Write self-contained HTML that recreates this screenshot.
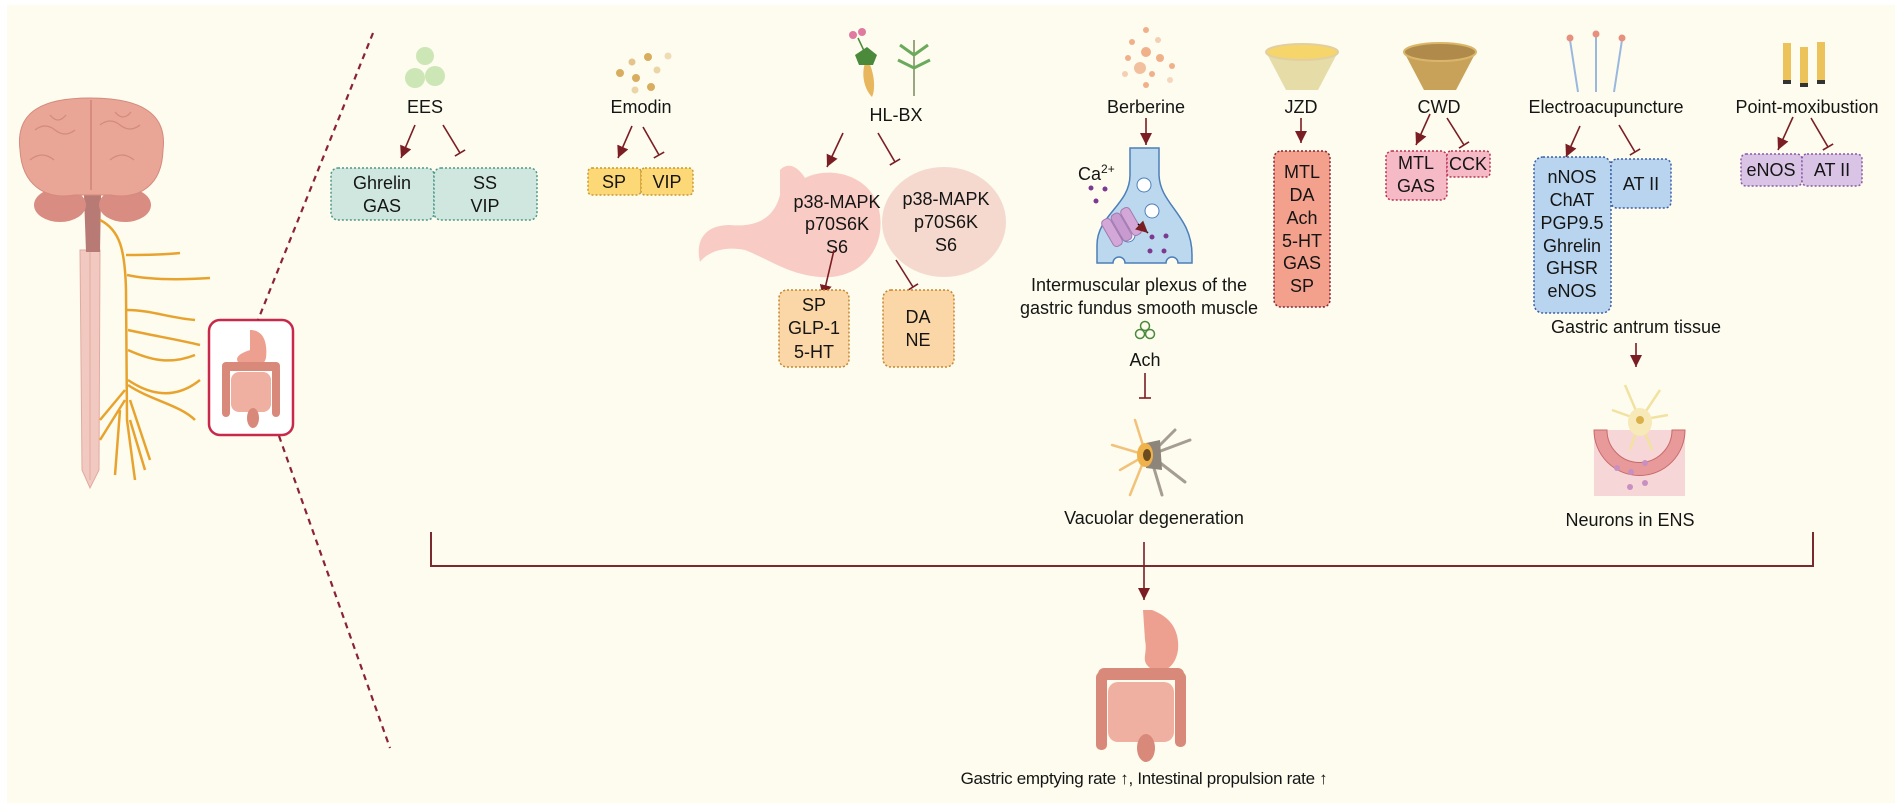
<!DOCTYPE html>
<html><head><meta charset="utf-8"><style>
html,body{margin:0;padding:0;background:#fff;}
svg{display:block;}
text{font-family:"Liberation Sans",sans-serif;fill:#151515;}
</style></head><body>
<svg width="1902" height="810" viewBox="0 0 1902 810" xmlns="http://www.w3.org/2000/svg">
<defs>
<marker id="ar" markerUnits="userSpaceOnUse" markerWidth="12" markerHeight="12" refX="10" refY="5" orient="auto" viewBox="0 0 10 10"><path d="M0,0 L10,5 L0,10 z" fill="#7a1e24"/></marker>
<marker id="inh" markerUnits="userSpaceOnUse" markerWidth="4" markerHeight="12" refX="1" refY="6" orient="auto" viewBox="0 0 4 12"><line x1="1" y1="0" x2="1" y2="12" stroke="#7a1e24" stroke-width="1.6"/></marker>
</defs>
<rect x="0" y="0" width="1902" height="810" fill="#fff"/>
<rect x="7" y="5" width="1888" height="798" fill="#fdfcef"/>

<!-- brain & spinal cord -->
<g>
<path d="M80,250 L100,250 L99,470 L90,488 L82,470 Z" fill="#f1c9c0" stroke="#e2aaa0"/>
<line x1="90" y1="252" x2="90" y2="480" stroke="#e2aaa0"/>
<path d="M84,195 L101,195 L100,252 L86,252 Z" fill="#b87a74"/>
<ellipse cx="60" cy="205" rx="26" ry="17" fill="#d98d82"/>
<ellipse cx="125" cy="205" rx="26" ry="17" fill="#d98d82"/>
<path d="M20,150 C15,110 45,98 90,98 C135,98 168,110 163,150 C162,185 140,200 110,195 L75,195 C45,200 22,185 20,150 Z" fill="#e9a596" stroke="#d48a7c"/>
<line x1="91" y1="100" x2="91" y2="190" stroke="#cf8578" stroke-width="1.5"/>
<path d="M35,130 q10,-8 20,0 q10,8 20,0 M100,125 q10,-8 20,0 q10,8 20,0 M30,160 q12,-10 24,0 M110,160 q12,-10 24,0 M50,115 q8,10 16,0 M115,112 q8,10 16,0" fill="none" stroke="#d48a7c" stroke-width="1.2"/>
<g fill="none" stroke="#e8a32e" stroke-width="2.5">
<path d="M100,220 C120,230 125,250 126,290 L127,420 L135,480"/>
<path d="M126,255 C140,255 160,255 180,253"/>
<path d="M127,275 C150,280 180,280 210,278"/>
<path d="M127,310 C150,310 170,318 195,320"/>
<path d="M128,330 C150,335 180,340 200,345"/>
<path d="M128,350 C150,360 170,365 195,355"/>
<path d="M128,380 C150,395 175,400 200,380"/>
<path d="M128,385 C150,400 180,405 195,420"/>
<path d="M125,390 L100,420 M125,400 L100,440 M130,400 L150,460 M130,420 L145,470 M120,410 L115,475"/>
</g>
</g>
<rect x="209" y="320" width="84" height="115" rx="11" fill="#fff" stroke="#c8284a" stroke-width="2.5"/>
<g>
<path d="M250,330 C262,330 268,340 266,358 C262,372 245,372 238,362 C234,356 244,352 250,350 Z" fill="#eea090"/>
<rect x="222" y="362" width="58" height="9" rx="4" fill="#d9897a"/>
<rect x="222" y="365" width="8" height="52" rx="4" fill="#d9897a"/>
<rect x="272" y="365" width="8" height="52" rx="4" fill="#d9897a"/>
<rect x="231" y="372" width="40" height="40" rx="8" fill="#efb0a2"/>
<ellipse cx="253" cy="418" rx="6" ry="10" fill="#d9897a"/>
</g>
<line x1="373" y1="33" x2="258" y2="320" stroke="#8a2335" stroke-width="2.2" stroke-dasharray="6,5"/>
<line x1="279" y1="436" x2="390" y2="748" stroke="#8a2335" stroke-width="2.2" stroke-dasharray="6,5"/>

<!-- EES -->
<circle cx="425" cy="56" r="9" fill="#bfe0a8" opacity=".8"/>
<circle cx="415" cy="78" r="10" fill="#bfe0a8" opacity=".8"/>
<circle cx="435" cy="76" r="10" fill="#bfe0a8" opacity=".8"/>
<text x="425" y="113" font-size="18" text-anchor="middle">EES</text>
<line x1="415" y1="125" x2="401" y2="158" stroke="#7a1e24" stroke-width="1.6" marker-end="url(#ar)"/>
<line x1="443" y1="125" x2="460" y2="153" stroke="#7a1e24" stroke-width="1.6" marker-end="url(#inh)"/>
<rect x="331" y="168" width="103" height="52" rx="7" fill="#cfe7df" stroke="#4f9a88" stroke-width="1.5" stroke-dasharray="2,2"/>
<rect x="434" y="168" width="103" height="52" rx="7" fill="#cfe7df" stroke="#4f9a88" stroke-width="1.5" stroke-dasharray="2,2"/>
<text x="382" y="189" font-size="18" text-anchor="middle">Ghrelin</text>
<text x="382" y="212" font-size="18" text-anchor="middle">GAS</text>
<text x="485" y="189" font-size="18" text-anchor="middle">SS</text>
<text x="485" y="212" font-size="18" text-anchor="middle">VIP</text>

<!-- Emodin -->
<g fill="#d9ad5f"><circle cx="648" cy="57" r="4"/><circle cx="632" cy="62" r="3.5" opacity=".7"/><circle cx="668" cy="56" r="3.5" opacity=".4"/><circle cx="620" cy="73" r="4"/><circle cx="636" cy="78" r="4"/><circle cx="657" cy="70" r="3.5" opacity=".5"/><circle cx="635" cy="90" r="3.5" opacity=".5"/><circle cx="651" cy="87" r="4"/></g>
<text x="641" y="113" font-size="18" text-anchor="middle">Emodin</text>
<line x1="632" y1="126" x2="618" y2="158" stroke="#7a1e24" stroke-width="1.6" marker-end="url(#ar)"/>
<line x1="643" y1="127" x2="659" y2="155" stroke="#7a1e24" stroke-width="1.6" marker-end="url(#inh)"/>
<rect x="588" y="168" width="53" height="27" rx="4" fill="#fcd877" stroke="#c99a2e" stroke-width="1.5" stroke-dasharray="2,2"/>
<rect x="641" y="168" width="52" height="27" rx="4" fill="#fcd877" stroke="#c99a2e" stroke-width="1.5" stroke-dasharray="2,2"/>
<text x="614" y="188" font-size="18" text-anchor="middle">SP</text>
<text x="667" y="188" font-size="18" text-anchor="middle">VIP</text>

<!-- HL-BX -->
<g>
<path d="M866,60 C860,75 865,90 872,97 C876,88 874,72 868,60 Z" fill="#e8b65c"/>
<path d="M855,55 l12,-8 l10,8 l-4,10 l-14,0 z" fill="#4a8a3a"/>
<circle cx="853" cy="35" r="4" fill="#e07aa0"/><circle cx="862" cy="32" r="4" fill="#e07aa0"/>
<line x1="858" y1="38" x2="866" y2="55" stroke="#4a8a3a" stroke-width="1.5"/>
<line x1="914" y1="40" x2="914" y2="96" stroke="#7a8a5a" stroke-width="1.5"/>
<path d="M900,45 l14,10 l14,-10 M898,60 l16,8 l16,-8" fill="none" stroke="#6aaa5a" stroke-width="3"/>
</g>
<text x="896" y="121" font-size="18" text-anchor="middle">HL-BX</text>
<line x1="843" y1="133" x2="827" y2="167" stroke="#7a1e24" stroke-width="1.6" marker-end="url(#ar)"/>
<line x1="878" y1="133" x2="895" y2="162" stroke="#7a1e24" stroke-width="1.6" marker-end="url(#inh)"/>
<ellipse cx="944" cy="222" rx="62" ry="55" fill="#f3d2c8" opacity=".85"/>
<path d="M780,170 C790,160 800,170 805,178 C830,165 875,175 880,215 C885,255 855,280 820,277 C790,275 770,260 745,250 C720,245 705,255 700,262 C695,240 705,225 730,225 C760,228 775,215 780,195 Z" fill="#f7c6c0" opacity=".9"/>
<text x="837" y="208" font-size="18" text-anchor="middle">p38-MAPK</text>
<text x="837" y="230" font-size="18" text-anchor="middle">p70S6K</text>
<text x="837" y="253" font-size="18" text-anchor="middle">S6</text>
<text x="946" y="205" font-size="18" text-anchor="middle">p38-MAPK</text>
<text x="946" y="228" font-size="18" text-anchor="middle">p70S6K</text>
<text x="946" y="251" font-size="18" text-anchor="middle">S6</text>
<line x1="834" y1="250" x2="823" y2="297" stroke="#7a1e24" stroke-width="1.6" marker-end="url(#ar)"/>
<line x1="896" y1="260" x2="913" y2="287" stroke="#7a1e24" stroke-width="1.6" marker-end="url(#inh)"/>
<rect x="779" y="290" width="70" height="77" rx="8" fill="#fbd6a6" stroke="#c8862e" stroke-width="1.5" stroke-dasharray="2,2"/>
<rect x="883" y="290" width="71" height="77" rx="8" fill="#fbd6a6" stroke="#c8862e" stroke-width="1.5" stroke-dasharray="2,2"/>
<text x="814" y="311" font-size="18" text-anchor="middle">SP</text>
<text x="814" y="334" font-size="18" text-anchor="middle">GLP-1</text>
<text x="814" y="358" font-size="18" text-anchor="middle">5-HT</text>
<text x="918" y="323" font-size="18" text-anchor="middle">DA</text>
<text x="918" y="346" font-size="18" text-anchor="middle">NE</text>

<!-- Berberine -->
<g fill="#f0b08a"><circle cx="1146" cy="30" r="3"/><circle cx="1132" cy="42" r="3"/><circle cx="1158" cy="40" r="3" opacity=".6"/><circle cx="1146" cy="52" r="5"/><circle cx="1128" cy="58" r="3"/><circle cx="1160" cy="58" r="4"/><circle cx="1140" cy="68" r="6" opacity=".8"/><circle cx="1172" cy="66" r="3"/><circle cx="1152" cy="74" r="3"/><circle cx="1125" cy="74" r="3" opacity=".6"/><circle cx="1146" cy="85" r="3"/><circle cx="1170" cy="80" r="3" opacity=".5"/></g>
<text x="1146" y="113" font-size="18" text-anchor="middle">Berberine</text>
<line x1="1146" y1="118" x2="1146" y2="145" stroke="#7a1e24" stroke-width="1.6" marker-end="url(#ar)"/>
<path d="M1130,148 L1159,148 L1159,175 C1160,205 1192,215 1192,255 L1192,263 L1178,263 A6,6 0 0 0 1166,263 L1125,263 A6,6 0 0 0 1113,263 L1097,263 L1097,245 C1097,215 1130,205 1130,175 Z" fill="#bcd8ee" stroke="#4d7fb8" stroke-width="1.5"/>
<circle cx="1144" cy="185" r="7" fill="#fff" stroke="#4d7fb8"/>
<circle cx="1152" cy="211" r="7" fill="#fff" stroke="#4d7fb8"/>
<circle cx="1128" cy="235" r="7" fill="#fff" stroke="#4d7fb8"/>
<g transform="rotate(-30 1125 225)"><rect x="1105" y="210" width="10" height="30" rx="4" fill="#d3a8d8" stroke="#a37ab0"/><rect x="1116" y="210" width="10" height="30" rx="4" fill="#c79ad0" stroke="#a37ab0"/><rect x="1127" y="210" width="10" height="30" rx="4" fill="#d3a8d8" stroke="#a37ab0"/></g>
<g fill="#7b3a8f"><circle cx="1091" cy="188" r="2.5"/><circle cx="1105" cy="189" r="2.5"/><circle cx="1096" cy="201" r="2.5"/><circle cx="1152" cy="237" r="2.5"/><circle cx="1166" cy="236" r="2.5"/><circle cx="1150" cy="251" r="2.5"/><circle cx="1164" cy="251" r="2.5"/></g>
<line x1="1138" y1="224" x2="1148" y2="233" stroke="#000" stroke-width="1.5" marker-end="url(#ar)"/>
<text x="1078" y="180" font-size="18">Ca<tspan font-size="12" dy="-7">2+</tspan></text>
<text x="1139" y="291" font-size="18" text-anchor="middle">Intermuscular plexus of the</text>
<text x="1139" y="314" font-size="18" text-anchor="middle">gastric fundus smooth muscle</text>
<g fill="none" stroke="#4a8a3a" stroke-width="1.5"><circle cx="1145" cy="326" r="4.5"/><circle cx="1140" cy="334" r="4.5"/><circle cx="1150" cy="334" r="4.5"/></g>
<text x="1145" y="366" font-size="18" text-anchor="middle">Ach</text>
<line x1="1145" y1="373" x2="1145" y2="398" stroke="#7a1e24" stroke-width="1.6" marker-end="url(#inh)"/>
<g fill="none" stroke-linecap="round">
<path d="M1146,455 L1135,420 M1146,455 L1112,445 M1146,455 L1120,470 M1146,455 L1130,495" stroke="#f2c27a" stroke-width="2.5"/>
<path d="M1150,455 L1175,430 M1150,455 L1190,440 M1150,455 L1185,482 M1150,455 L1162,495" stroke="#a59d92" stroke-width="3"/>
</g>
<path d="M1146,443 L1160,440 L1162,470 L1146,468 Z" fill="#8e857a"/>
<ellipse cx="1145" cy="455" rx="8" ry="12" fill="#f0b24a"/>
<ellipse cx="1147" cy="455" rx="4" ry="6" fill="#6a4a20"/>
<text x="1154" y="524" font-size="18" text-anchor="middle">Vacuolar degeneration</text>

<!-- JZD -->
<path d="M1266,52 L1338,52 L1318,90 L1286,90 Z" fill="#e6dca8"/>
<ellipse cx="1302" cy="52" rx="36" ry="8" fill="#f6d56a" stroke="#e2cfa0" stroke-width="2"/>
<text x="1301" y="113" font-size="18" text-anchor="middle">JZD</text>
<line x1="1301" y1="118" x2="1301" y2="143" stroke="#7a1e24" stroke-width="1.6" marker-end="url(#ar)"/>
<rect x="1274" y="151" width="56" height="156" rx="7" fill="#f3a08c" stroke="#8a2335" stroke-width="1.5" stroke-dasharray="2,2"/>
<g font-size="18" text-anchor="middle"><text x="1302" y="178">MTL</text><text x="1302" y="201">DA</text><text x="1302" y="224">Ach</text><text x="1302" y="247">5-HT</text><text x="1302" y="269">GAS</text><text x="1302" y="292">SP</text></g>

<!-- CWD -->
<path d="M1404,52 L1476,52 L1456,90 L1424,90 Z" fill="#c9a25a"/>
<ellipse cx="1440" cy="52" rx="36" ry="9" fill="#b08a4a" stroke="#d9b66a" stroke-width="2"/>
<text x="1439" y="113" font-size="18" text-anchor="middle">CWD</text>
<line x1="1430" y1="114" x2="1416" y2="145" stroke="#7a1e24" stroke-width="1.6" marker-end="url(#ar)"/>
<line x1="1447" y1="118" x2="1464" y2="145" stroke="#7a1e24" stroke-width="1.6" marker-end="url(#inh)"/>
<rect x="1386" y="151" width="61" height="49" rx="6" fill="#f6b9c6" stroke="#b83355" stroke-width="1.5" stroke-dasharray="2,2"/>
<rect x="1447" y="151" width="43" height="26" rx="4" fill="#f6b9c6" stroke="#b83355" stroke-width="1.5" stroke-dasharray="2,2"/>
<text x="1416" y="169" font-size="18" text-anchor="middle">MTL</text>
<text x="1416" y="192" font-size="18" text-anchor="middle">GAS</text>
<text x="1468" y="170" font-size="18" text-anchor="middle">CCK</text>

<!-- Electroacupuncture -->
<g stroke="#9ab8de" stroke-width="2"><line x1="1570" y1="40" x2="1578" y2="92"/><line x1="1596" y1="36" x2="1596" y2="92"/><line x1="1622" y1="40" x2="1614" y2="92"/></g>
<g fill="#e8907e"><circle cx="1570" cy="38" r="3.5"/><circle cx="1596" cy="34" r="3.5"/><circle cx="1622" cy="38" r="3.5"/></g>
<text x="1606" y="113" font-size="18" text-anchor="middle">Electroacupuncture</text>
<line x1="1580" y1="126" x2="1566" y2="157" stroke="#7a1e24" stroke-width="1.6" marker-end="url(#ar)"/>
<line x1="1619" y1="125" x2="1635" y2="152" stroke="#7a1e24" stroke-width="1.6" marker-end="url(#inh)"/>
<rect x="1534" y="157" width="77" height="156" rx="9" fill="#b8d4ee" stroke="#3a5ea8" stroke-width="1.5" stroke-dasharray="2,2"/>
<rect x="1611" y="159" width="60" height="49" rx="6" fill="#b8d4ee" stroke="#3a5ea8" stroke-width="1.5" stroke-dasharray="2,2"/>
<g font-size="18" text-anchor="middle"><text x="1572" y="183">nNOS</text><text x="1572" y="206">ChAT</text><text x="1572" y="229">PGP9.5</text><text x="1572" y="252">Ghrelin</text><text x="1572" y="274">GHSR</text><text x="1572" y="297">eNOS</text><text x="1641" y="190">AT II</text></g>
<text x="1636" y="333" font-size="18" text-anchor="middle">Gastric antrum tissue</text>
<line x1="1636" y1="343" x2="1636" y2="367" stroke="#7a1e24" stroke-width="1.6" marker-end="url(#ar)"/>
<rect x="1594" y="430" width="91" height="66" fill="#f6d6d6"/>
<path d="M1594,430 A45,45 0 0 0 1685,430 L1672,430 A32,32 0 0 1 1607,430 Z" fill="#e89a9a" stroke="#c86a6a"/>
<g fill="none" stroke="#f2e2a0" stroke-width="2.5"><path d="M1640,420 L1625,385 M1640,420 L1660,390 M1640,420 L1612,410 M1640,420 L1668,415 M1640,420 L1630,450 M1640,420 L1652,450"/></g>
<ellipse cx="1640" cy="422" rx="12" ry="14" fill="#f7eab8"/>
<circle cx="1640" cy="420" r="4" fill="#d9b04a"/>
<g fill="#c890c0"><circle cx="1617" cy="468" r="3"/><circle cx="1631" cy="472" r="3"/><circle cx="1645" cy="463" r="3"/><circle cx="1630" cy="487" r="3"/><circle cx="1645" cy="483" r="3"/></g>
<text x="1630" y="526" font-size="18" text-anchor="middle">Neurons in ENS</text>

<!-- Point-moxibustion -->
<g><rect x="1783" y="43" width="8" height="40" fill="#ecc25a"/><rect x="1800" y="47" width="8" height="38" fill="#ecc25a"/><rect x="1817" y="42" width="8" height="40" fill="#ecc25a"/>
<rect x="1783" y="80" width="8" height="4" fill="#333"/><rect x="1800" y="83" width="8" height="4" fill="#333"/><rect x="1817" y="80" width="8" height="4" fill="#333"/></g>
<text x="1807" y="113" font-size="18" text-anchor="middle">Point-moxibustion</text>
<line x1="1793" y1="117" x2="1778" y2="150" stroke="#7a1e24" stroke-width="1.6" marker-end="url(#ar)"/>
<line x1="1811" y1="118" x2="1828" y2="147" stroke="#7a1e24" stroke-width="1.6" marker-end="url(#inh)"/>
<rect x="1741" y="154" width="61" height="32" rx="5" fill="#dac4e6" stroke="#8a5aa8" stroke-width="1.5" stroke-dasharray="2,2"/>
<rect x="1802" y="154" width="60" height="32" rx="5" fill="#dac4e6" stroke="#8a5aa8" stroke-width="1.5" stroke-dasharray="2,2"/>
<text x="1771" y="176" font-size="18" text-anchor="middle">eNOS</text>
<text x="1832" y="176" font-size="18" text-anchor="middle">AT II</text>

<!-- bracket -->
<path d="M431,532 L431,566 L1813,566 L1813,532" fill="none" stroke="#7a2a2e" stroke-width="2"/>
<line x1="1144" y1="542" x2="1144" y2="600" stroke="#7a1e24" stroke-width="1.6" marker-end="url(#ar)"/>

<!-- bottom intestines -->
<g>
<path d="M1143,610 L1152,610 C1165,615 1180,625 1178,650 C1175,670 1160,675 1150,668 C1140,660 1148,655 1145,640 Z" fill="#eea090"/>
<rect x="1098" y="668" width="86" height="12" rx="6" fill="#d9897a"/>
<rect x="1096" y="672" width="11" height="78" rx="5" fill="#d9897a"/>
<rect x="1175" y="672" width="11" height="75" rx="5" fill="#d9897a"/>
<rect x="1108" y="682" width="66" height="60" rx="10" fill="#efb0a2"/>
<ellipse cx="1146" cy="748" rx="9" ry="14" fill="#d9897a"/>
</g>
<text x="1144" y="784" font-size="17" text-anchor="middle" letter-spacing="-0.3">Gastric emptying rate ↑, Intestinal propulsion rate ↑</text>
</svg>
</body></html>
